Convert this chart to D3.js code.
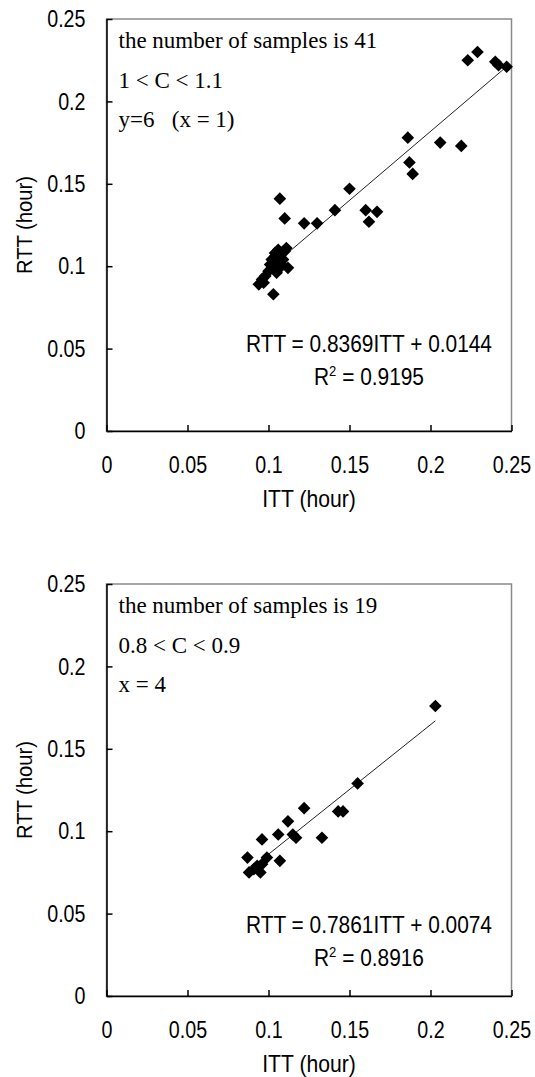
<!DOCTYPE html>
<html>
<head>
<meta charset="utf-8">
<script src="https://cdn.jsdelivr.net/npm/d3@7"></script>
<style>
body { margin: 0; background: #fff; }
.lbl { font-family: "Liberation Sans Narrow", "Arial Narrow", "Liberation Sans", sans-serif; font-size: 24px; fill: #000; }
.narrow { transform-box: fill-box; transform-origin: center; transform: scaleX(0.82); }
.narrow-end { transform-box: fill-box; transform-origin: right center; transform: scaleX(0.82); }
.eq { transform-box: fill-box; transform-origin: center; transform: scaleX(0.87); }
.title { transform-box: fill-box; transform-origin: center; transform: scaleX(0.92); }
.note { font-family: "Liberation Serif", "Times New Roman", serif; font-size: 23px; fill: #000; white-space: pre; }
</style>
</head>
<body>
<svg id="chart" width="535" height="1077"></svg>
<script>
// values
var tickValues = [0, 0.05, 0.1, 0.15, 0.2, 0.25];

var topItt = [0.094, 0.096, 0.098, 0.097, 0.103, 0.100, 0.102, 0.103, 0.104, 0.105,
              0.106, 0.106, 0.107, 0.108, 0.108, 0.109, 0.110, 0.111, 0.112, 0.104,
              0.101, 0.105, 0.107, 0.110, 0.122, 0.130, 0.141, 0.150, 0.160, 0.162,
              0.167, 0.186, 0.187, 0.189, 0.206, 0.219, 0.223, 0.229, 0.240, 0.242, 0.247];
var topRtt = [0.089, 0.092, 0.094, 0.090, 0.083, 0.097, 0.104, 0.100, 0.106, 0.102,
              0.110, 0.098, 0.105, 0.108, 0.101, 0.104, 0.109, 0.111, 0.099, 0.108,
              0.101, 0.096, 0.141, 0.129, 0.126, 0.126, 0.134, 0.147, 0.134, 0.127,
              0.133, 0.178, 0.163, 0.156, 0.175, 0.173, 0.225, 0.230, 0.224, 0.222, 0.221];

var bottomItt = [0.203, 0.155, 0.122, 0.143, 0.146, 0.112, 0.106, 0.115, 0.117, 0.096,
                 0.133, 0.087, 0.099, 0.107, 0.096, 0.088, 0.091, 0.095, 0.093];
var bottomRtt = [0.176, 0.129, 0.114, 0.112, 0.112, 0.106, 0.098, 0.098, 0.096, 0.095,
                 0.096, 0.084, 0.084, 0.082, 0.080, 0.075, 0.077, 0.075, 0.079];

var fitSlopes = [0.8369, 0.7861];
var fitIntercepts = [0.0144, 0.0074];
var fitR2 = ["0.9195", "0.8916"];

var topNotes = ["the number of samples is 41", "1 < C < 1.1", "y=6   (x = 1)"];
var bottomNotes = ["the number of samples is 19", "0.8 < C < 0.9", "x = 4"];

var svg = d3.select("#chart");

var panels = [
    {itt: topItt, rtt: topRtt, notes: topNotes, top: 19, bottom: 431, eqY: 352, r2Y: 385},
    {itt: bottomItt, rtt: bottomRtt, notes: bottomNotes, top: 584, bottom: 996, eqY: 933, r2Y: 966}
];

var left = 106.5, right = 511.5;

panels.forEach(function(p, i) {
    var x = d3.scaleLinear().domain([0, 0.25]).range([left, right]);
    var y = d3.scaleLinear().domain([0, 0.25]).range([p.bottom, p.top]);
    var g = svg.append("g");

    // grey frame
    g.append("rect")
        .attr("x", left).attr("y", p.top)
        .attr("width", right - left).attr("height", p.bottom - p.top)
        .style("fill", "none").style("stroke", "#8a8a8a").style("stroke-width", 1.5);

    var xAxis = g.append("g")
        .attr("transform", "translate(0," + p.bottom + ")")
        .call(d3.axisBottom(x).tickValues(tickValues).tickSize(-6).tickSizeOuter(0)
            .tickPadding(25).tickFormat(function(d){return String(d);}));
    var yAxis = g.append("g")
        .attr("transform", "translate(" + left + ",0)")
        .call(d3.axisLeft(y).tickValues(tickValues).tickSize(-6).tickSizeOuter(0)
            .tickPadding(21).tickFormat(function(d){return String(d);}));

    xAxis.selectAll("text").attr("class", "lbl narrow");
    yAxis.selectAll("text").attr("class", "lbl narrow-end");
    [xAxis, yAxis].forEach(function(a) {
        a.attr("font-family", null).attr("font-size", null);
        a.selectAll("line").style("stroke", "#000").style("stroke-width", 1.5);
        a.select(".domain").style("stroke", "#000").style("stroke-width", 1.5);
    });

    // axis titles
    g.append("text").attr("class", "lbl title")
        .attr("x", (left + right) / 2).attr("y", p.bottom + 76)
        .attr("text-anchor", "middle").style("font-size", "23px")
        .text("ITT (hour)");
    g.append("g")
        .attr("transform", "translate(32," + (p.top + p.bottom) / 2 + ") rotate(-90)")
        .append("text").attr("class", "lbl title")
        .attr("text-anchor", "middle").style("font-size", "22px")
        .text("RTT (hour)");

    // notes in the top left corner
    g.selectAll(".note").data(p.notes).enter()
        .append("text").attr("class", "note")
        .attr("x", left + 12)
        .attr("y", function(d, k){ return p.top + 29 + k * 39.5; })
        .text(function(d){ return d; });

    // trend line over the range of the data
    var ext = d3.extent(p.itt);
    var line = d3.line().x(function(d){return x(d);})
        .y(function(d){return y(fitSlopes[i] * d + fitIntercepts[i]);});
    g.append("path").datum(ext)
        .attr("d", line)
        .style("fill", "none").style("stroke", "#222").style("stroke-width", 1);

    // diamond markers
    var pts = p.itt.map(function(v, k){ return [v, p.rtt[k]]; });
    var diamond = d3.symbol().type(d3.symbolSquare).size(80);
    g.selectAll(".pt").data(pts).enter()
        .append("path").attr("class", "pt")
        .attr("d", diamond)
        .attr("transform", function(d){ return "translate(" + x(d[0]) + "," + y(d[1]) + ") rotate(45)"; })
        .style("fill", "#000");

    // equation and R squared
    var cx = 369;
    g.append("text").attr("class", "lbl eq")
        .attr("x", cx).attr("y", p.eqY).attr("text-anchor", "middle")
        .text("RTT = " + fitSlopes[i].toFixed(4) + "ITT + " + fitIntercepts[i].toFixed(4));
    var r2 = g.append("text").attr("class", "lbl eq")
        .attr("x", cx).attr("y", p.r2Y).attr("text-anchor", "middle");
    r2.append("tspan").text("R");
    r2.append("tspan").attr("dy", -9).style("font-size", "15px").text("2");
    r2.append("tspan").attr("dy", 9).text(" = " + fitR2[i]);
});
</script>
</body>
</html>
